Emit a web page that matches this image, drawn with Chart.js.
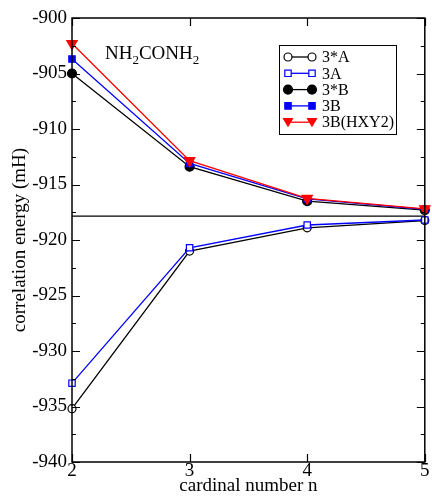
<!DOCTYPE html>
<html>
<head>
<meta charset="utf-8">
<script src="https://cdn.jsdelivr.net/npm/chart.js@4.4.1/dist/chart.umd.min.js"></script>
<style>
  html, body { margin: 0; padding: 0; background: #fff; }
  #wrap { width: 432px; height: 496px; }
</style>
</head>
<body>
<div id="wrap"><canvas id="energyChart"></canvas></div>
<script>
// cardinal numbers on the x axis
const cardinal = [2, 3, 4, 5];

// correlation energies (mH)
const e3starA = [-935.2, -921.0, -918.9, -918.25];
const e3A = [-932.9, -920.7, -918.65, -918.2];
const e3starB = [-905.0, -913.4, -916.5, -917.3];
const e3B = [-903.7, -913.1, -916.3, -917.25];
const e3BHXY2 = [-902.3, -912.85, -916.25, -917.2];
const limitValue = -917.85;

const seriesLabels = ["3*A", "3A", "3*B", "3B", "3B(HXY2)"];
const yTicks = [-940, -935, -930, -925, -920, -915, -910, -905, -900];

const SERIF = "'Liberation Serif', 'DejaVu Serif', serif";

function pts(vals) {
    return cardinal.map((n, i) => ({ x: n, y: vals[i] }));
}

function series(label, vals, color, style, filled, size, order) {
    return {
        label: label,
        data: pts(vals),
        borderColor: color,
        borderWidth: 1.3,
        backgroundColor: filled ? color : '#ffffff',
        pointBackgroundColor: filled ? color : '#ffffff',
        pointBorderColor: color,
        pointBorderWidth: 1.2,
        pointStyle: style,
        pointRadius: size,
        pointRotation: style === 'triangle' ? 180 : 0,
        tension: 0,
        fill: false,
        clip: false,
        order: order
    };
}

const datasets = [
    series(seriesLabels[0], e3starA, '#000000', 'circle', false, 4, 5),
    series(seriesLabels[1], e3A, '#0000ff', 'rect', false, 4.5, 4),
    series(seriesLabels[2], e3starB, '#000000', 'circle', true, 4.5, 3),
    series(seriesLabels[3], e3B, '#0000ff', 'rect', true, 4.5, 2),
    series(seriesLabels[4], e3BHXY2, '#ff0000', 'triangle', true, 6, 1),
    {
        label: 'limit',
        data: [{ x: cardinal[0], y: limitValue }, { x: cardinal[cardinal.length - 1], y: limitValue }],
        borderColor: '#000000',
        borderWidth: 1.2,
        pointRadius: 0,
        fill: false,
        order: 10
    }
];

// draw a marker like the chart does, for the legend
function marker(ctx, ds, x, y) {
    const r = ds.pointRadius;
    ctx.save();
    ctx.fillStyle = ds.pointBackgroundColor;
    ctx.strokeStyle = ds.pointBorderColor;
    ctx.lineWidth = ds.pointBorderWidth;
    ctx.beginPath();
    if (ds.pointStyle === 'circle') {
        ctx.arc(x, y, r, 0, Math.PI * 2);
    } else if (ds.pointStyle === 'rect') {
        const s = r * Math.SQRT1_2;
        ctx.rect(x - s, y - s, 2 * s, 2 * s);
    } else {
        const w = 4.5;
        ctx.moveTo(x - w, y - 3.5);
        ctx.lineTo(x + w, y - 3.5);
        ctx.lineTo(x, y + 4);
        ctx.closePath();
    }
    ctx.fill();
    ctx.stroke();
    ctx.restore();
}

const framePlugin = {
    id: 'frame',
    afterDatasetsDraw(chart) {
        const ctx = chart.ctx;
        const a = chart.chartArea;
        const xs = chart.scales.x, ys = chart.scales.y;
        ctx.save();
        ctx.strokeStyle = '#000';
        ctx.lineWidth = 1.5;
        ctx.strokeRect(a.left, a.top, a.right - a.left, a.bottom - a.top);

        ctx.lineWidth = 1.2;
        ctx.beginPath();
        // y ticks, major and minor, on both sides
        for (let v = -940; v <= -900; v += 2.5) {
            const py = Math.round(ys.getPixelForValue(v)) + 0.5;
            const len = (v % 5 === 0) ? 8 : 4;
            ctx.moveTo(a.left, py); ctx.lineTo(a.left + len, py);
            ctx.moveTo(a.right, py); ctx.lineTo(a.right - len, py);
        }
        // x ticks top and bottom
        cardinal.forEach(n => {
            const px = Math.round(xs.getPixelForValue(n)) + 0.5;
            ctx.moveTo(px, a.bottom); ctx.lineTo(px, a.bottom - 8);
            ctx.moveTo(px, a.top); ctx.lineTo(px, a.top + 8);
        });
        ctx.stroke();

        // molecule label
        ctx.fillStyle = '#000';
        ctx.textBaseline = 'alphabetic';
        ctx.textAlign = 'left';
        let x = 105;
        const base = 59;
        const parts = [['NH', 0], ['2', 1], ['CONH', 0], ['2', 1]];
        parts.forEach(([t, sub]) => {
            ctx.font = (sub ? '13px ' : '19px ') + SERIF;
            ctx.fillText(t, x, base + (sub ? 5 : 0));
            x += ctx.measureText(t).width;
        });

        // legend box
        const lx = 279, ly = 45, lw = 117, lh = 89;
        ctx.fillStyle = '#fff';
        ctx.fillRect(lx, ly, lw, lh);
        ctx.lineWidth = 1;
        ctx.strokeStyle = '#000';
        ctx.strokeRect(lx + 0.5, ly + 0.5, lw, lh);
        ctx.font = '16px ' + SERIF;
        ctx.textBaseline = 'middle';
        for (let i = 0; i < seriesLabels.length; i++) {
            const ds = chart.data.datasets[i];
            const ry = 57 + i * 16.3;
            ctx.strokeStyle = ds.borderColor;
            ctx.lineWidth = ds.borderWidth;
            ctx.beginPath();
            ctx.moveTo(288, ry); ctx.lineTo(312, ry);
            ctx.stroke();
            marker(ctx, ds, 288, ry);
            marker(ctx, ds, 312, ry);
            ctx.fillStyle = '#000';
            ctx.fillText(ds.label, 322, ry + 1);
        }
        ctx.restore();
    }
};

new Chart(document.getElementById('energyChart').getContext('2d'), {
    type: 'line',
    data: { datasets: datasets },
    options: {
        responsive: true,
        maintainAspectRatio: false,
        animation: false,
        layout: { padding: { top: 18, right: 4, left: 0, bottom: 0 } },
        plugins: { legend: { display: false }, tooltip: { enabled: false } },
        scales: {
            x: {
                type: 'linear',
                min: 2,
                max: 5,
                grid: { display: false, drawTicks: false },
                border: { display: false },
                afterBuildTicks: s => { s.ticks = cardinal.map(v => ({ value: v })); },
                afterFit: s => { s.height = 34; },
                ticks: { color: '#000', padding: 0, font: { family: SERIF, size: 19, lineHeight: 1 } },
                title: {
                    display: true,
                    text: 'cardinal number n',
                    color: '#000',
                    padding: { top: 0, bottom: 0 },
                    font: { family: SERIF, size: 19, lineHeight: 1 }
                }
            },
            y: {
                type: 'linear',
                min: -940,
                max: -900,
                grid: { display: false, drawTicks: false },
                border: { display: false },
                afterBuildTicks: s => { s.ticks = yTicks.map(v => ({ value: v })); },
                afterFit: s => { s.width = 72; },
                ticks: { color: '#000', padding: 5, font: { family: SERIF, size: 19 } },
                title: {
                    display: true,
                    text: 'correlation energy (mH)',
                    color: '#000',
                    padding: { top: 9, bottom: 0 },
                    font: { family: SERIF, size: 19 }
                }
            }
        }
    },
    plugins: [framePlugin]
});
</script>
</body>
</html>
